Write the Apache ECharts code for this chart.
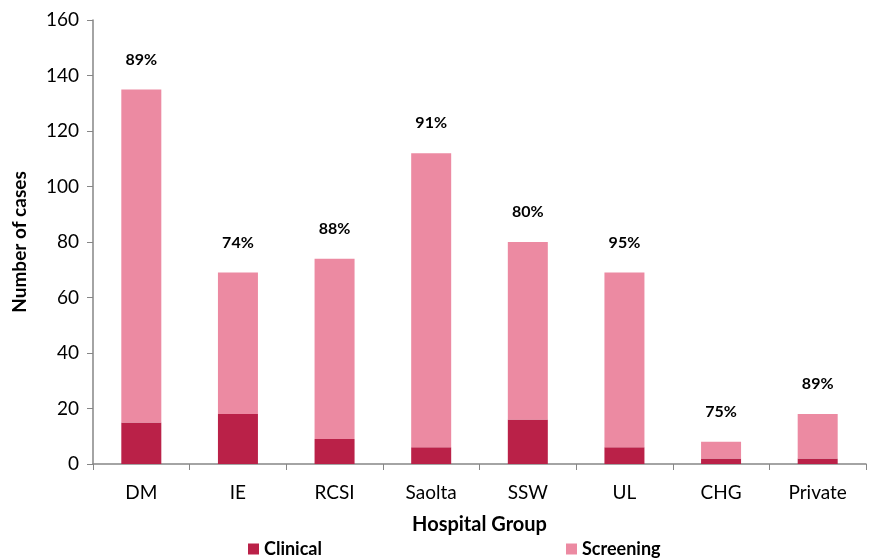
<!DOCTYPE html>
<html><head><meta charset="utf-8">
<script src="https://cdn.jsdelivr.net/npm/echarts@6/dist/echarts.min.js"></script>
<style>html,body{margin:0;padding:0;background:#fff}#c{width:873px;height:560px}</style>
</head><body><div id="c"></div>
<script>
const categories = ['DM','IE','RCSI','Saolta','SSW','UL','CHG','Private'];
const clinical = [15, 18, 9, 6, 16, 6, 2, 2];
const screening = [120, 51, 65, 106, 64, 63, 6, 16];
const percentLabels = ['89%','74%','88%','91%','80%','95%','75%','89%'];
const yTicks = [0,20,40,60,80,100,120,140,160];

const FONT = 'Lato';
const chart = echarts.init(document.getElementById('c'));
chart.setOption({
  animation: false,
  textStyle: {fontFamily: FONT},
  grid: {left: 93, right: 7, top: 20, bottom: 96, containLabel: false},
  legend: [
    {data: ['Clinical'], left: 243, top: 535, itemWidth: 11, itemHeight: 11, icon: 'rect',
     textStyle: {fontFamily: FONT, fontWeight: 'bold', fontSize: 18, color: '#000'}},
    {data: ['Screening'], left: 561, top: 535, itemWidth: 11, itemHeight: 11, icon: 'rect',
     textStyle: {fontFamily: FONT, fontWeight: 'bold', fontSize: 18, color: '#000'}}
  ],
  xAxis: {
    type: 'category', data: categories,
    name: 'Hospital Group', nameLocation: 'middle', nameGap: 51,
    nameTextStyle: {fontFamily: FONT, fontWeight: 'bold', fontSize: 20, color: '#000'},
    axisLine: {lineStyle: {color: '#868686', width: 1.5}},
    axisTick: {show: true, alignWithLabel: false, length: 6, lineStyle: {color: '#868686'}},
    axisLabel: {fontFamily: FONT, fontSize: 19, color: '#000', margin: 19}
  },
  yAxis: {
    type: 'value', min: yTicks[0], max: yTicks[yTicks.length-1], interval: 20,
    name: 'Number of cases', nameLocation: 'middle', nameGap: 64, nameRotate: 90,
    nameTextStyle: {fontFamily: FONT, fontWeight: 'bold', fontSize: 19, color: '#000'},
    axisLine: {show: true, lineStyle: {color: '#868686', width: 1.5}},
    axisTick: {show: true, length: 6, lineStyle: {color: '#868686'}},
    splitLine: {show: false},
    axisLabel: {fontFamily: FONT, fontSize: 19, color: '#000', margin: 14}
  },
  series: [
    {name: 'Clinical', type: 'bar', stack: 'total', data: clinical, barWidth: 40,
     itemStyle: {color: '#BA2148'}},
    {name: 'Screening', type: 'bar', stack: 'total', data: screening, barWidth: 40,
     itemStyle: {color: '#EC8AA2'},
     label: {show: true, position: 'top', distance: 22,
       formatter: p => percentLabels[p.dataIndex],
       fontFamily: FONT, fontWeight: 'bold', fontSize: 16, color: '#000'}}
  ]
});
</script></body></html>
